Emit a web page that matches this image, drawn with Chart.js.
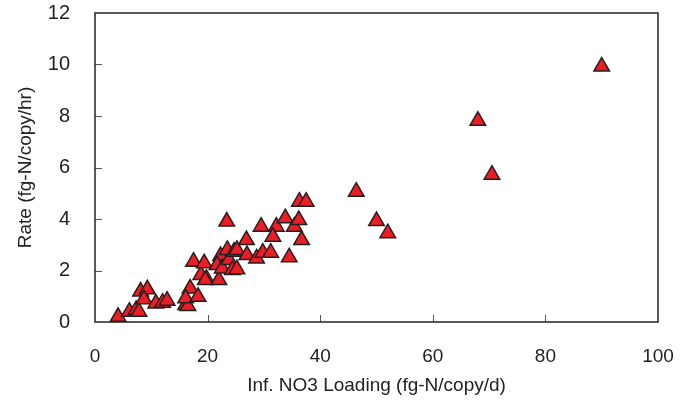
<!DOCTYPE html>
<html>
<head>
<meta charset="utf-8">
<script src="https://cdn.jsdelivr.net/npm/chart.js@4.4.0/dist/chart.umd.min.js"></script>
<style>
  html, body { margin: 0; padding: 0; background: #fff; }
  #wrap { width: 689px; height: 400px; }
</style>
</head>
<body>
<div id="wrap"><canvas id="rateChart"></canvas></div>
<script>
// Inf. NO3 loading (fg-N/copy/d) vs rate (fg-N/copy/hr)
const loading = [4.1, 6.1, 7.3, 7.8, 8.1, 9.3, 8.7, 10.8, 12.0, 12.8, 16.1, 16.5, 16.9, 16.1, 18.3,
  18.8, 19.8, 17.5, 19.4, 19.6, 22.0, 22.3, 21.7, 22.6, 23.8, 24.4, 25.2, 23.4, 23.5, 24.7,
  25.2, 27.0, 28.7, 29.8, 31.2, 34.5, 26.9, 29.5, 32.2, 31.6, 33.8, 35.4, 36.2, 36.7, 36.3,
  37.5, 46.4, 50.0, 52.0, 68.0, 70.5, 90.0];
const rate = [0.20, 0.40, 0.47, 0.40, 1.18, 1.27, 0.88, 0.72, 0.75, 0.83, 0.66, 0.62, 1.30, 0.92, 0.98,
  1.83, 1.67, 2.34, 2.28, 1.63, 1.63, 2.56, 2.21, 2.08, 2.41, 2.02, 2.05, 3.90, 2.80, 2.73,
  2.80, 2.60, 2.47, 2.69, 2.69, 2.51, 3.18, 3.70, 3.70, 3.31, 4.03, 3.70, 3.96, 3.18, 4.67,
  4.67, 5.06, 3.92, 3.45, 7.82, 5.72, 9.92];
const xTicks = [0, 20, 40, 60, 80, 100];
const yTicks = [0, 2, 4, 6, 8, 10, 12];

const points = loading.map((x, i) => ({ x: x, y: rate[i] }));

// frame around the plot area plus short inward tick marks
const frameTicks = {
  id: 'frameTicks',
  afterDatasetsDraw(chart) {
    const { ctx, chartArea: a, scales } = chart;
    ctx.save();
    ctx.strokeStyle = '#555';
    ctx.lineWidth = 1;
    ctx.beginPath();
    yTicks.slice(1, -1).forEach(v => {
      const py = Math.round(scales.y.getPixelForValue(v)) + 0.5;
      ctx.moveTo(a.left, py);
      ctx.lineTo(a.left + 7, py);
    });
    xTicks.slice(1, -1).forEach(v => {
      const px = Math.round(scales.x.getPixelForValue(v)) + 0.5;
      ctx.moveTo(px, a.bottom);
      ctx.lineTo(px, a.bottom - 7);
    });
    ctx.stroke();
    ctx.strokeStyle = '#222';
    ctx.lineWidth = 1.5;
    ctx.strokeRect(a.left, a.top, a.right - a.left, a.bottom - a.top);
    ctx.restore();
  }
};

const ctx = document.getElementById('rateChart').getContext('2d');
new Chart(ctx, {
  type: 'scatter',
  data: {
    datasets: [{
      data: points,
      pointStyle: 'triangle',
      radius: 9,
      hoverRadius: 9,
      backgroundColor: '#ee1c24',
      borderColor: '#231f20',
      borderWidth: 1.5
    }]
  },
  options: {
    responsive: true,
    maintainAspectRatio: false,
    animation: false,
    layout: { padding: { top: 13, right: 31, left: 0, bottom: 0 } },
    plugins: {
      legend: { display: false },
      tooltip: { enabled: false }
    },
    scales: {
      x: {
        type: 'linear',
        min: 0,
        max: 100,
        afterBuildTicks: s => { s.ticks = xTicks.map(v => ({ value: v })); },
        afterFit: s => { s.height = 78; s.paddingRight = 0; s.paddingLeft = 0; },
        grid: { display: false },
        border: { display: false },
        ticks: {
          padding: 15,
          color: '#222',
          font: { family: '"Liberation Sans", Arial, sans-serif', size: 19 }
        },
        title: {
          display: true,
          text: 'Inf. NO3 Loading (fg-N/copy/d)',
          color: '#222',
          padding: { top: 0, bottom: 3 },
          font: { family: '"Liberation Sans", Arial, sans-serif', size: 19 }
        }
      },
      y: {
        type: 'linear',
        min: 0,
        max: 12,
        afterBuildTicks: s => { s.ticks = yTicks.map(v => ({ value: v })); },
        afterFit: s => { s.width = 95; s.paddingTop = 0; s.paddingBottom = 0; },
        grid: { display: false },
        border: { display: false },
        ticks: {
          padding: 17,
          color: '#222',
          font: { family: '"Liberation Sans", Arial, sans-serif', size: 20 }
        },
        title: {
          display: true,
          text: 'Rate (fg-N/copy/hr)',
          color: '#222',
          padding: { top: 14, bottom: 0 },
          font: { family: '"Liberation Sans", Arial, sans-serif', size: 19 }
        }
      }
    }
  },
  plugins: [frameTicks]
});
</script>
</body>
</html>
